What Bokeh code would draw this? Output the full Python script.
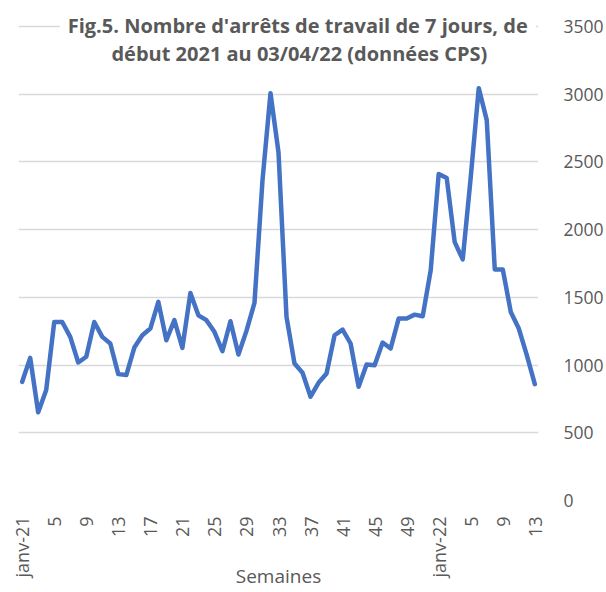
import math
from bokeh.plotting import figure
from bokeh.models import FixedTicker, Label, ColumnDataSource
from bokeh.embed import file_html
from bokeh.resources import INLINE

# Data
tick_labels = ["janv-21", "5", "9", "13", "17", "21", "25", "29", "33", "37",
               "41", "45", "49", "janv-22", "5", "9", "13"]
values_2021 = [876, 1053, 651, 815, 1318, 1318, 1208, 1019, 1061, 1318,
               1208, 1159, 933, 926, 1129, 1220, 1269, 1466, 1183, 1331,
               1127, 1532, 1367, 1331, 1245, 1102, 1323, 1078, 1252, 1458,
               2362, 3007, 2570, 1355, 1011, 943, 766, 869, 938, 1220,
               1262, 1159, 840, 1004, 999, 1166, 1122, 1343, 1343, 1372,
               1360, 1699]
values_2022 = [2411, 2381, 1907, 1780, 2386, 3044, 2808, 1706, 1706, 1392,
               1269, 1073, 859]
y_ticks = [0, 500, 1000, 1500, 2000, 2500, 3000, 3500]

values = values_2021 + values_2022
idx = list(range(len(values)))
tick_pos = list(range(0, len(values), 4))

src = ColumnDataSource(dict(x=idx, y=values))

GRAY = "#595959"
FONT = "Open Sans"

# frame extended above 3500 so that the chart title can sit over the top gridline
p = figure(width=606, height=592, output_backend="svg", toolbar_location=None,
           x_range=(-0.46, len(values) - 0.54), y_range=(0, 3691),
           y_axis_location="right",
           min_border_left=18, min_border_right=65, min_border_top=0,
           min_border_bottom=91)
p.outline_line_color = None
p.background_fill_color = "white"

p.line("x", "y", source=src, line_color="#4472C4", line_width=4.5,
       line_join="round", line_cap="round")

# axes
xa = p.xaxis[0]
xa.ticker = FixedTicker(ticks=tick_pos)
xa.major_label_overrides = {t: lab for t, lab in zip(tick_pos, tick_labels)}
xa.major_label_orientation = math.pi / 2
xa.axis_line_color = None
xa.major_tick_line_color = None
xa.minor_tick_line_color = None
xa.major_tick_out = 0
xa.major_tick_in = 0
xa.minor_tick_out = 0
xa.minor_tick_in = 0
xa.major_label_text_color = GRAY
xa.major_label_text_font = FONT
xa.major_label_text_font_size = "18px"
xa.major_label_standoff = 16
xa.axis_label = "Semaines"
xa.axis_label_text_font = FONT
xa.axis_label_text_font_size = "19px"
xa.axis_label_text_font_style = "normal"
xa.axis_label_text_color = GRAY
xa.axis_label_standoff = -17

ya = p.yaxis[0]
ya.ticker = FixedTicker(ticks=y_ticks)
ya.axis_line_color = None
ya.major_tick_line_color = None
ya.minor_tick_line_color = None
ya.major_tick_out = 0
ya.major_tick_in = 0
ya.minor_tick_out = 0
ya.minor_tick_in = 0
ya.major_label_text_color = GRAY
ya.major_label_text_font = FONT
ya.major_label_text_font_size = "17.5px"
ya.major_label_standoff = 25

p.xgrid.grid_line_color = None
p.ygrid.ticker = FixedTicker(ticks=y_ticks)
p.ygrid.grid_line_color = "#D9D9D9"
p.ygrid.grid_line_width = 1.3

# title lines (over the top gridline, white background)
t1 = Label(x=34.4, y=3503, text="Fig.5. Nombre d'arrêts de travail de 7 jours, de",
           text_align="center", text_baseline="middle", text_font=FONT,
           text_font_style="bold", text_font_size="20px", text_color=GRAY,
           background_fill_color="white", padding=8)
t2 = Label(x=34.6, y=3297, text="début 2021 au 03/04/22 (données CPS)",
           text_align="center", text_baseline="middle", text_font=FONT,
           text_font_style="bold", text_font_size="20px", text_color=GRAY)
p.add_layout(t1)
p.add_layout(t2)

open("out.html", "w").write(file_html(p, INLINE))
